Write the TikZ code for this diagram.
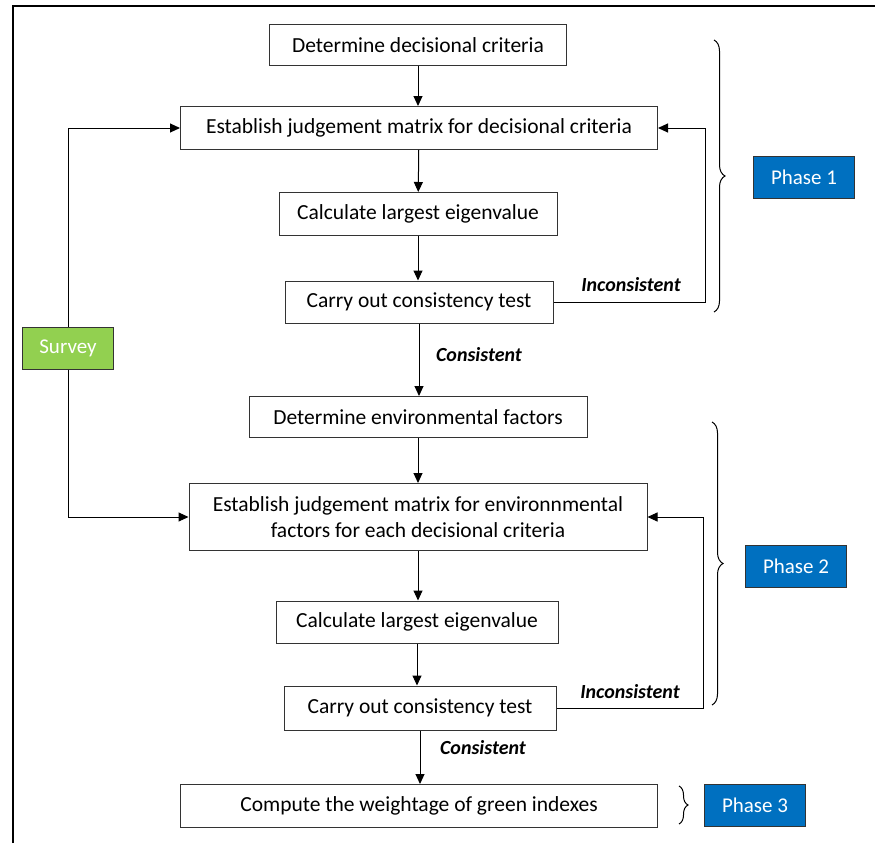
\documentclass[tikz,border=0pt]{standalone}
\usepackage{fontspec}
\setmainfont{Carlito}
\usetikzlibrary{arrows.meta,decorations.pathreplacing}
\definecolor{phaseblue}{HTML}{0070C0}
\definecolor{surveygreen}{HTML}{92D050}
\begin{document}
\begin{tikzpicture}[x=1pt,y=-1pt,
    box/.style={draw=black!80,line width=1pt,inner sep=0pt,font=\fontsize{21.5}{26}\selectfont,align=center},
    tag/.style={draw=black!80,line width=1pt,inner sep=0pt,text=white,font=\fontsize{21}{24}\selectfont,minimum width=101pt,minimum height=42pt},
    lbl/.style={font=\fontsize{20}{24}\selectfont\bfseries\itshape},
    arr/.style={-{Triangle[length=10pt,width=9pt]},line width=1pt},
    brc/.style={decorate,decoration={brace,amplitude=11pt},line width=1pt}]
    \useasboundingbox (0,0) rectangle (875,843);
    \draw[line width=1.5pt] (13,843) -- (13,6) -- (875,6);

    %NODE
    \node[box,minimum width=297pt,minimum height=41pt] (A) at (418,45) {Determine decisional criteria};
    \node[box,minimum width=477pt,minimum height=43pt] (B) at (419,128) {Establish judgement matrix for decisional criteria};
    \node[box,minimum width=278pt,minimum height=43pt] (C) at (418,214) {Calculate largest eigenvalue};
    \node[box,minimum width=268pt,minimum height=42pt] (D) at (419,302) {Carry out consistency test};
    \node[box,minimum width=338pt,minimum height=41pt] (E) at (418,417) {Determine environmental factors};
    \node[box,minimum width=458pt,minimum height=67pt] (F) at (418,517) {Establish judgement matrix for environnmental\\factors for each decisional criteria};
    \node[box,minimum width=282pt,minimum height=42pt] (G) at (417,622) {Calculate largest eigenvalue};
    \node[box,minimum width=272pt,minimum height=44pt] (H) at (420,708) {Carry out consistency test};
    \node[box,minimum width=477pt,minimum height=43pt] (I) at (419,806) {Compute the weightage of green indexes};
    \node[tag,fill=surveygreen,minimum width=91pt] (S) at (68,348) {Survey};
    \node[tag,fill=phaseblue] (P1) at (804,177) {Phase 1};
    \node[tag,fill=phaseblue] (P2) at (796,566) {Phase 2};
    \node[tag,fill=phaseblue] (P3) at (755,805) {Phase 3};
    \node[lbl] (L1) at (631,285) {Inconsistent};
    \node[lbl] (L2) at (479,355) {Consistent};
    \node[lbl] (L3) at (630,692) {Inconsistent};
    \node[lbl] (L4) at (483,748) {Consistent};
    \coordinate (R1) at (705,128);
    \coordinate (R2) at (703,517);

    %EDGE
    \draw[arr] (A) -- (A|-B.north);
    \draw[arr] (B) -- (C);
    \draw[arr] (C) -- (C|-D.north);
    \draw[arr] (D) -- (D|-E.north);
    \draw[arr] (E) -- (F);
    \draw[arr] (F) -- (F|-G.north);
    \draw[arr] (G) -- (G|-H.north);
    \draw[arr] (H) -- (H|-I.north);
    \draw[arr] (D.east) -| (R1) -- (B.east);
    \draw[arr] (H.east) -| (R2) -- (F.east);
    \draw[arr] (S.north) |- (B.west);
    \draw[arr] (S.south) |- (F.west);

    %BRACE
    \draw[brc] (714,40) -- (714,312);
    \draw[brc] (712,422) -- (712,705);
    \draw[brc,decoration={amplitude=9pt}] (679,786) -- (679,824);
\end{tikzpicture}
\end{document}
